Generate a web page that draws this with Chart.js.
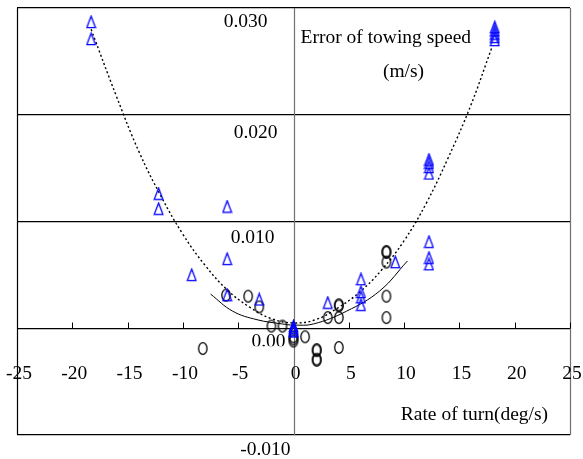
<!DOCTYPE html>
<html>
<head>
<meta charset="utf-8">
<script src="https://cdn.jsdelivr.net/npm/chart.js@4/dist/chart.umd.min.js"></script>
<style>
html,body{margin:0;padding:0;background:#fff;}
#wrap{width:583px;height:459px;position:relative;}
</style>
</head>
<body>
<div id="wrap"><canvas id="c" width="583" height="459"></canvas></div>
<script>
// ---- data ----
const triX = [-18.3,-18.3,-12.2,-12.2,-6.0,-6.0,-9.2,-6.0,-3.1,0,0,0,0,3.1,6.1,6.1,6.1,6.1,9.2,12.25,12.25,12.25,12.25,12.25,12.25,12.25,18.2,18.2,18.2,18.2,18.2];
const triY = [0.0287,0.0271,0.0126,0.0112,0.0114,0.0065,0.0050,0.0031,0.0027,0.0002,0.0000,-0.0002,-0.0003,0.0024,0.0046,0.0034,0.0029,0.0022,0.0062,0.0158,0.0155,0.0151,0.0145,0.0081,0.0066,0.0060,0.0282,0.0279,0.0276,0.0273,0.0270];
const cirX = [-8.2,-6.1,-4.1,-3.1,-2.0,-1.0,0,0,0,1.05,2.1,2.1,2.1,2.1,3.1,4.1,4.1,4.1,4.1,8.4,8.4,8.4,8.4,8.4];
const cirY = [-0.0019,0.0031,0.0030,0.0020,0.0002,0.0002,-0.0008,-0.0010,-0.0012,-0.0008,-0.0020,-0.0021,-0.0029,-0.0030,0.0010,0.0010,0.0021,0.0022,-0.0018,0.0010,0.0030,0.0062,0.0071,0.0072];
const dotFitX = [-18.3,-16,-14,-12,-10,-8,-6,-4,-2,0,2,4,6,8,10,12,14,16,17.9];
const dotFitY = [0.0280,0.0217,0.0166,0.0124,0.0088,0.0059,0.0036,0.0020,0.0009,0.0005,0.0008,0.0019,0.0034,0.0055,0.0082,0.0117,0.0160,0.0208,0.0262];
const solFitX = [-7.5,-5.5,-3.3,-1.0,0,1.8,4.8,7.8,10.3];
const solFitY = [0.0032,0.0016,0.0008,0.0004,0.0003,0.0004,0.0016,0.0035,0.0063];
const xTicks = [-25,-20,-15,-10,-5,0,5,10,15,20,25];
const xTickLabels = ['-25','-20','-15','-10','-5','0','5','10','15','20','25'];
const yTicks = [0.03,0.02,0.01,0.0,-0.01];
const yTickLabels = ['0.030','0.020','0.010','0.00','-0.010'];
const yTitle = ['Error of towing speed','(m/s)'];
const xTitle = 'Rate of turn(deg/s)';

const pts = (xs, ys) => xs.map((x, i) => ({x: x, y: ys[i]}));

function triCanvas(){
  const c = document.createElement('canvas'); c.width = 11; c.height = 14;
  const g = c.getContext('2d');
  g.strokeStyle = '#0000ff'; g.lineWidth = 1.3;
  g.beginPath(); g.moveTo(5.5,1.2); g.lineTo(9.8,12.6); g.lineTo(1.2,12.6); g.closePath(); g.stroke();
  return c;
}
function ellCanvas(){
  const c = document.createElement('canvas'); c.width = 12; c.height = 15;
  const g = c.getContext('2d');
  g.strokeStyle = '#000'; g.lineWidth = 1.3;
  g.beginPath(); g.ellipse(6,7.5,4.2,5.8,0,0,Math.PI*2); g.stroke();
  return c;
}

const FONT = '19.5px "Liberation Serif", "Times New Roman", serif';

const framePlugin = {
  id: 'frame',
  beforeDatasetsDraw(chart){
    const {ctx, chartArea: a, scales: {x, y}} = chart;
    ctx.save();
    const x0 = Math.round(x.getPixelForValue(0)) + 0.5;
    const y0 = Math.round(y.getPixelForValue(0)) + 0.5;
    ctx.strokeStyle = '#707070'; ctx.lineWidth = 1.2;
    ctx.beginPath(); ctx.moveTo(x0, a.top); ctx.lineTo(x0, a.bottom); ctx.stroke();
    ctx.beginPath(); ctx.moveTo(Math.round(a.right)+0.5, a.top); ctx.lineTo(Math.round(a.right)+0.5, a.bottom); ctx.stroke();
    ctx.strokeStyle = '#000'; ctx.lineWidth = 1.2;
    ctx.beginPath(); ctx.moveTo(Math.round(a.left)+0.5, a.top); ctx.lineTo(Math.round(a.left)+0.5, a.bottom); ctx.stroke();
    ctx.lineWidth = 1;
    xTicks.forEach(v => {
      if (v === -25) return;
      const px = Math.round(x.getPixelForValue(v)) + 0.5;
      ctx.beginPath(); ctx.moveTo(px, y0); ctx.lineTo(px, y0 - 6); ctx.stroke();
    });
    ctx.restore();
  },
  afterDraw(chart){
    const {ctx, scales: {x, y}} = chart;
    const x0 = x.getPixelForValue(0);
    const y0 = y.getPixelForValue(0);
    ctx.save();
    ctx.font = FONT; ctx.fillStyle = '#000'; ctx.textBaseline = 'middle';
    ctx.textAlign = 'center';
    xTicks.forEach((v, i) => {
      ctx.fillText(xTickLabels[i], x.getPixelForValue(v) + 2, y0 + 46);
    });
    const dx = [-26, -16, -19, -8, -3];
    const dy = [14, 18, 16, 14, 15];
    ctx.textAlign = 'right';
    yTicks.forEach((v, i) => {
      const py = y.getPixelForValue(v) + dy[i];
      if (v === 0) {
        ctx.save(); ctx.beginPath(); ctx.rect(0, 0, 583, py + 4); ctx.clip();
        ctx.fillText(yTickLabels[i], x0 + dx[i], py); ctx.restore();
      } else {
        ctx.fillText(yTickLabels[i], x0 + dx[i], py);
      }
    });
    ctx.textAlign = 'left';
    ctx.fillText(yTitle[0], x0 + 7, 38);
    ctx.textAlign = 'center';
    ctx.fillText(yTitle[1], x0 + 110, 72);
    ctx.textAlign = 'left';
    ctx.fillText(xTitle, x.getPixelForValue(9.7), 415);
    ctx.restore();
  }
};

new Chart(document.getElementById('c'), {
  type: 'scatter',
  data: {
    datasets: [
      {label: 'fit1', data: pts(dotFitX, dotFitY), showLine: true, borderColor: '#000', borderWidth: 1.4, borderDash: [2, 2.5], pointRadius: 0, tension: 0.4, fill: false, order: 3},
      {label: 'fit2', data: pts(solFitX, solFitY), showLine: true, borderColor: '#000', borderWidth: 1, pointRadius: 0, tension: 0.4, fill: false, order: 3},
      {label: 'circles', data: pts(cirX, cirY), pointStyle: ellCanvas(), pointRadius: 5, order: 2},
      {label: 'triangles', data: pts(triX, triY), pointStyle: triCanvas(), pointRadius: 5, order: 1}
    ]
  },
  options: {
    responsive: false,
    animation: false,
    layout: {padding: {left: 17, right: 13, top: 8, bottom: 24}},
    plugins: {legend: {display: false}, tooltip: {enabled: false}},
    scales: {
      x: {type: 'linear', min: -25, max: 25, grid: {display: false, drawTicks: false}, border: {display: false}, ticks: {display: false, stepSize: 5}},
      y: {type: 'linear', min: -0.01, max: 0.03, grid: {color: '#000', lineWidth: 1.2, drawTicks: false}, border: {display: false}, ticks: {display: false, stepSize: 0.01}}
    }
  },
  plugins: [framePlugin]
});
</script>
</body>
</html>
